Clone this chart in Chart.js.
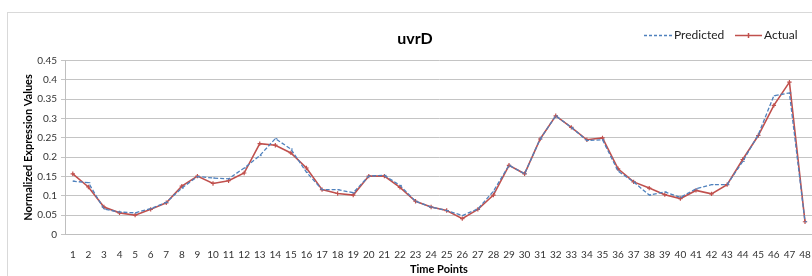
<!DOCTYPE html>
<html>
<head>
<meta charset="utf-8">
<script src="https://cdn.jsdelivr.net/npm/chart.js@4/dist/chart.umd.min.js"></script>
<style>
  html, body { margin: 0; padding: 0; background: #fff; overflow: hidden; }
  /* the source chart is cut off at the right edge, so the canvas runs past the window */
  #wrap { position: relative; width: 812px; height: 276px; overflow: hidden; }
</style>
</head>
<body>
<div id="wrap"><canvas id="uvrdChart" width="818" height="276"></canvas></div>
<script>
// Chart data
const chartTitle = "uvrD";
const timePoints = ["1","2","3","4","5","6","7","8","9","10","11","12","13","14","15","16",
  "17","18","19","20","21","22","23","24","25","26","27","28","29","30","31","32",
  "33","34","35","36","37","38","39","40","41","42","43","44","45","46","47","48"];
const predicted = [0.138, 0.134, 0.066, 0.058, 0.056, 0.067, 0.083, 0.120, 0.150, 0.146, 0.144, 0.172,
  0.204, 0.248, 0.221, 0.161, 0.116, 0.116, 0.108, 0.151, 0.153, 0.127, 0.086, 0.071,
  0.062, 0.049, 0.066, 0.112, 0.179, 0.157, 0.247, 0.307, 0.277, 0.243, 0.245, 0.164,
  0.136, 0.102, 0.110, 0.096, 0.118, 0.129, 0.129, 0.189, 0.258, 0.359, 0.366, 0.033];
const actual = [0.157, 0.123, 0.071, 0.056, 0.050, 0.065, 0.082, 0.125, 0.151, 0.132, 0.139, 0.159,
  0.235, 0.231, 0.211, 0.172, 0.116, 0.106, 0.102, 0.151, 0.151, 0.122, 0.086, 0.071,
  0.062, 0.041, 0.065, 0.102, 0.179, 0.157, 0.247, 0.307, 0.277, 0.245, 0.250, 0.170,
  0.136, 0.120, 0.103, 0.093, 0.114, 0.105, 0.129, 0.194, 0.256, 0.334, 0.394, 0.033];

const FONT = "Lato, 'Liberation Sans', sans-serif";
const BLUE = "#4f81bd";
const RED = "#c0504d";

// frame, title and legend (Excel-style, title/legend share one row)
const decorPlugin = {
  id: "decor",
  beforeDraw(chart) {
    const ctx = chart.ctx;
    ctx.save();
    ctx.strokeStyle = "#d9d9d9";
    ctx.lineWidth = 1;
    ctx.strokeRect(7.5, 12.5, 900, 400);
    ctx.restore();
  },
  afterDraw(chart) {
    const ctx = chart.ctx;
    ctx.save();
    ctx.fillStyle = "#000";
    ctx.textBaseline = "middle";
    ctx.textAlign = "center";
    ctx.font = "bold 16px " + FONT;
    ctx.fillText(chartTitle, 415, 38.5);

    ctx.font = "12px " + FONT;
    ctx.textAlign = "left";
    ctx.fillStyle = "#222";
    const y = 35.5;
    // Predicted
    ctx.strokeStyle = BLUE;
    ctx.lineWidth = 1.3;
    ctx.setLineDash([3, 2]);
    ctx.beginPath(); ctx.moveTo(644, y); ctx.lineTo(672, y); ctx.stroke();
    ctx.setLineDash([]);
    ctx.fillText("Predicted", 674, y);
    // Actual
    ctx.strokeStyle = RED;
    ctx.lineWidth = 1.5;
    ctx.beginPath(); ctx.moveTo(735, y); ctx.lineTo(762, y); ctx.stroke();
    ctx.beginPath(); ctx.moveTo(748.5, y - 2.5); ctx.lineTo(748.5, y + 2.5); ctx.stroke();
    ctx.fillText("Actual", 764, y);
    ctx.restore();
  }
};

new Chart(document.getElementById("uvrdChart"), {
  type: "line",
  data: {
    labels: timePoints,
    datasets: [
      { label: "Predicted", data: predicted, borderColor: BLUE, backgroundColor: BLUE,
        borderWidth: 1.3, borderDash: [4, 2], pointStyle: "dash", pointRadius: 2,
        pointBorderWidth: 1, tension: 0, fill: false },
      { label: "Actual", data: actual, borderColor: RED, backgroundColor: RED,
        borderWidth: 1.6, pointStyle: "cross", pointRadius: 2.2,
        pointBorderWidth: 1.2, tension: 0, fill: false }
    ]
  },
  options: {
    responsive: false,
    animation: false,
    layout: { padding: { top: 60.5, left: 0, right: 0, bottom: 0 } },
    plugins: {
      legend: { display: false },
      title: { display: false },
      tooltip: { enabled: false }
    },
    scales: {
      x: {
        offset: true,
        grid: { display: false },
        border: { display: true, color: "#bfbfbf" },
        ticks: { color: "#333", font: { family: FONT, size: 10 }, padding: 6,
          maxRotation: 0, autoSkip: false },
        title: { display: true, text: "Time Points", color: "#000",
          font: { family: FONT, size: 11, weight: "bold" }, padding: { top: 2, bottom: 0 } },
        afterFit: s => { s.height = 41.5; }
      },
      y: {
        min: 0,
        max: 0.45,
        ticks: { stepSize: 0.05, color: "#333", font: { family: FONT, size: 10 }, padding: 4,
          callback: v => +v.toFixed(2) },
        grid: { color: "#c4c4c4", lineWidth: 1, tickLength: 4 },
        border: { display: true, color: "#bfbfbf" },
        title: { display: true, text: "Normalized Expression Values", color: "#000",
          font: { family: FONT, size: 11, weight: "bold" }, padding: { top: 22, bottom: 0 } },
        afterFit: s => { s.width = 65; }
      }
    }
  },
  plugins: [decorPlugin]
});
</script>
</body>
</html>
